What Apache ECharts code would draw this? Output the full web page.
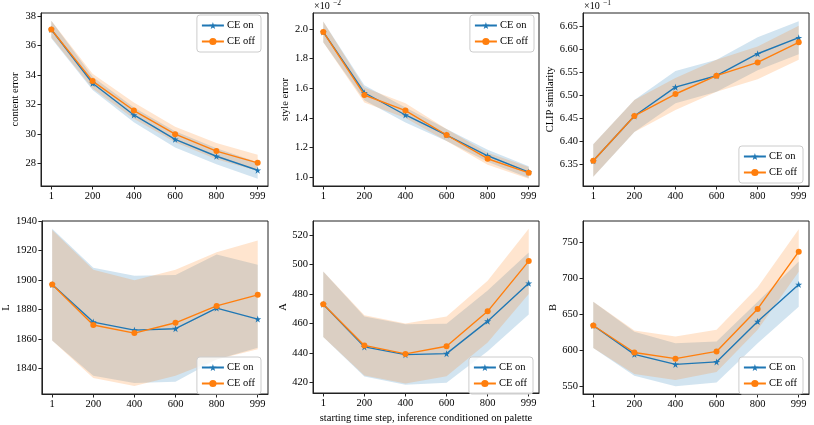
<!DOCTYPE html>
<html>
<head>
<meta charset="utf-8">
<script src="https://cdn.jsdelivr.net/npm/echarts@6/dist/echarts.min.js"></script>
<style>
html, body { margin: 0; padding: 0; background: #fff; }
#chart { width: 814px; height: 425px; }
</style>
</head>
<body>
<div id="chart"></div>
<script>
// time steps on the x axis
var steps = ['1', '200', '400', '600', '800', '999']

// content error
var contentOn = [37.1, 33.45, 31.3, 29.65, 28.5, 27.55]
var contentOnLo = [36.5, 33.0, 30.8, 29.1, 27.95, 26.98]
var contentOnHi = [37.7, 33.9, 31.8, 30.2, 29.05, 28.1]
var contentOff = [37.1, 33.6, 31.6, 30.0, 28.85, 28.05]
var contentOffLo = [36.55, 33.1, 31.05, 29.45, 28.3, 27.5]
var contentOffHi = [37.7, 34.1, 32.15, 30.5, 29.4, 28.6]
var contentTicks = [28, 30, 32, 34, 36, 38]

// style error (x 1e-2)
var styleOn = [1.98, 1.57, 1.42, 1.285, 1.145, 1.035]
var styleOnLo = [1.91, 1.52, 1.37, 1.245, 1.105, 0.995]
var styleOnHi = [2.05, 1.62, 1.47, 1.325, 1.185, 1.075]
var styleOff = [1.98, 1.555, 1.45, 1.285, 1.125, 1.03]
var styleOffLo = [1.91, 1.505, 1.40, 1.245, 1.085, 0.99]
var styleOffHi = [2.05, 1.605, 1.50, 1.325, 1.165, 1.07]
var styleTicks = [1.0, 1.2, 1.4, 1.6, 1.8, 2.0]

// CLIP similarity (x 1e-1)
var clipOn = [6.357, 6.455, 6.518, 6.543, 6.591, 6.626]
var clipOnLo = [6.322, 6.42, 6.483, 6.508, 6.555, 6.59]
var clipOnHi = [6.393, 6.49, 6.553, 6.578, 6.627, 6.662]
var clipOff = [6.357, 6.455, 6.503, 6.543, 6.572, 6.616]
var clipOffLo = [6.322, 6.42, 6.468, 6.508, 6.535, 6.578]
var clipOffHi = [6.393, 6.49, 6.538, 6.578, 6.607, 6.652]
var clipTicks = [6.35, 6.40, 6.45, 6.50, 6.55, 6.60, 6.65]

// L
var lOn = [1897, 1871.5, 1866, 1867, 1881, 1873.5]
var lOnLo = [1859, 1835, 1830, 1831, 1846, 1854]
var lOnHi = [1935, 1908.5, 1903, 1903.5, 1917.5, 1910.5]
var lOff = [1897, 1869.5, 1864, 1871, 1882.5, 1890]
var lOffLo = [1859, 1833.5, 1828, 1835, 1846, 1853]
var lOffHi = [1934, 1907, 1900, 1907, 1919, 1927]
var lTicks = [1840, 1860, 1880, 1900, 1920, 1940]

// A
var aOn = [473, 444, 438.7, 439.4, 461.5, 487.3]
var aOnLo = [450.7, 423.8, 418.3, 419.5, 441, 466]
var aOnHi = [495.3, 464.6, 459.4, 459.8, 482.4, 508.3]
var aOff = [473, 445, 439.2, 444.4, 468.2, 502.4]
var aOffLo = [450.7, 424.5, 419, 424, 447, 480]
var aOffHi = [495.3, 465.5, 460, 464.6, 489, 524.4]
var aTicks = [420, 440, 460, 480, 500, 520]

// B
var bOn = [634, 594, 580, 583.5, 639.5, 691]
var bOnLo = [602.6, 564.3, 549.5, 555, 609.5, 660]
var bOnHi = [667, 625.2, 609.5, 611.8, 667, 722.7]
var bOff = [634, 596.5, 588, 598, 657, 736.5]
var bOffLo = [602.6, 566.6, 558.3, 569.3, 628, 708.7]
var bOffHi = [667, 627.1, 618.8, 628, 687, 767.5]
var bTicks = [550, 600, 650, 700, 750]

var blue = '#1f77b4'
var orange = '#ff7f0e'
var font = 'Liberation Serif'
var star = 'path://M0,-1L0.2245,-0.309L0.951,-0.309L0.363,0.118L0.588,0.809L0,0.382L-0.588,0.809L-0.363,0.118L-0.951,-0.309L-0.2245,-0.309Z'

var panels = [
    {name: 'content error', on: contentOn, onLo: contentOnLo, onHi: contentOnHi, off: contentOff, offLo: contentOffLo, offHi: contentOffHi,
     ticks: contentTicks, min: 26.48, max: 38.22, digits: 0, gap: 20, grid: [41, 13, 227], legend: {right: 553, top: 15}},
    {name: 'style error', on: styleOn, onLo: styleOnLo, onHi: styleOnHi, off: styleOff, offLo: styleOffLo, offHi: styleOffHi,
     ticks: styleTicks, min: 0.941, max: 2.108, digits: 1, gap: 21, grid: [313, 13, 226], legend: {right: 280, top: 15}},
    {name: 'CLIP similarity', on: clipOn, onLo: clipOnLo, onHi: clipOnHi, off: clipOff, offLo: clipOffLo, offHi: clipOffHi,
     ticks: clipTicks, min: 6.302, max: 6.68, digits: 2, gap: 26, grid: [583, 13, 226], legend: {right: 11, top: 146}},
    {name: 'L', on: lOn, onLo: lOnLo, onHi: lOnHi, off: lOff, offLo: lOffLo, offHi: lOffHi,
     ticks: lTicks, min: 1822.6, max: 1940.2, digits: 0, gap: 26, grid: [41, 221, 227], legend: {right: 553, top: 357}},
    {name: 'A', on: aOn, onLo: aOnLo, onHi: aOnHi, off: aOff, offLo: aOffLo, offHi: aOffHi,
     ticks: aTicks, min: 412.6, max: 529.7, digits: 0, gap: 23, grid: [313, 221, 226], legend: {right: 281, top: 357}},
    {name: 'B', on: bOn, onLo: bOnLo, onHi: bOnHi, off: bOff, offLo: bOffLo, offHi: bOffHi,
     ticks: bTicks, min: 538.9, max: 779.1, digits: 0, gap: 23, grid: [583, 221, 226], legend: {right: 11, top: 357}}
]

var bandSeries = function(gi, lo, hi, color) {
    return {
        type: 'custom',
        xAxisIndex: gi,
        yAxisIndex: gi,
        silent: true,
        z: 1,
        data: lo.map(function(v, i) { return [i, v, hi[i]] }),
        encode: {x: 0, y: [1, 2]},
        renderItem: function(params, api) {
            if (params.dataIndex !== 0) return
            var top = []
            var bot = []
            for (var i = 0; i < lo.length; i++) {
                top.push(api.coord([i, hi[i]]))
                bot.unshift(api.coord([i, lo[i]]))
            }
            return {
                type: 'polygon',
                shape: {points: top.concat(bot)},
                style: {fill: color, opacity: 0.2}
            }
        }
    }
}

var lineSeries = function(gi, name, values, color, symbol, size) {
    return {
        type: 'line',
        name: name,
        xAxisIndex: gi,
        yAxisIndex: gi,
        z: 3,
        data: values.map(function(v, i) { return [i, v] }),
        symbol: symbol,
        symbolSize: size,
        showAllSymbol: true,
        lineStyle: {color: color, width: 1.4},
        itemStyle: {color: color, borderWidth: 0},
        emphasis: {disabled: true},
        animation: false
    }
}

var grids = []
var xAxes = []
var yAxes = []
var legends = []
var series = []
var axisColor = '#222'

panels.forEach(function(p, gi) {
    grids.push({
        left: p.grid[0], top: p.grid[1], width: p.grid[2], height: 173,
        show: true, borderColor: axisColor, borderWidth: 1, backgroundColor: 'transparent'
    })
    xAxes.push({
        type: 'value', gridIndex: gi, min: -0.25, max: 5.25,
        name: gi === 4 ? 'starting time step, inference conditioned on palette' : '',
        nameLocation: 'middle', nameGap: 20,
        nameTextStyle: {fontFamily: font, fontSize: 10.5, color: '#000'},
        axisLine: {show: true, onZero: false, lineStyle: {color: axisColor, width: 1}},
        axisTick: {show: true, length: 3.5, lineStyle: {color: axisColor}, customValues: [0, 1, 2, 3, 4, 5]},
        axisLabel: {
            fontFamily: font, fontSize: 10.5, color: '#000', margin: 5,
            customValues: [0, 1, 2, 3, 4, 5],
            formatter: function(v) { return steps[Math.round(v)] }
        },
        splitLine: {show: false}
    })
    yAxes.push({
        type: 'value', gridIndex: gi, min: p.min, max: p.max,
        name: p.name, nameLocation: 'middle', nameGap: p.gap,
        nameTextStyle: {fontFamily: font, fontSize: 10.5, color: '#000'},
        axisLine: {show: true, onZero: false, lineStyle: {color: axisColor, width: 1}},
        axisTick: {show: true, length: 3.5, lineStyle: {color: axisColor}, customValues: p.ticks},
        axisLabel: {
            fontFamily: font, fontSize: 10.5, color: '#000', margin: 5,
            customValues: p.ticks,
            formatter: function(v) { return v.toFixed(p.digits) }
        },
        splitLine: {show: false}
    })
    legends.push({
        data: ['CE on', 'CE off'],
        orient: 'vertical',
        right: p.legend.right,
        top: p.legend.top,
        itemWidth: 22,
        itemHeight: 9,
        itemGap: 5,
        padding: [5, 6, 5, 4],
        backgroundColor: 'rgba(255,255,255,0.8)',
        borderColor: '#ccc',
        borderWidth: 1,
        borderRadius: 3,
        selectedMode: false,
        textStyle: {fontFamily: font, fontSize: 10.5, color: '#000', padding: [0, 0, 0, -2]}
    })
    series.push(bandSeries(gi, p.onLo, p.onHi, blue))
    series.push(bandSeries(gi, p.offLo, p.offHi, orange))
    series.push(lineSeries(gi, 'CE on', p.on, blue, star, 7))
    series.push(lineSeries(gi, 'CE off', p.off, orange, 'circle', 6))
})

var option = {
    animation: false,
    backgroundColor: '#fff',
    textStyle: {fontFamily: font},
    grid: grids,
    xAxis: xAxes,
    yAxis: yAxes,
    legend: legends,
    series: series,
    graphic: [
        {type: 'text', left: 314, top: 1, style: {text: '×10', fontFamily: font, fontSize: 10, fill: '#000'}},
        {type: 'text', left: 333, top: -1, style: {text: '−2', fontFamily: font, fontSize: 7.5, fill: '#000'}},
        {type: 'text', left: 584, top: 1, style: {text: '×10', fontFamily: font, fontSize: 10, fill: '#000'}},
        {type: 'text', left: 603, top: -1, style: {text: '−1', fontFamily: font, fontSize: 7.5, fill: '#000'}}
    ]
}

echarts.init(document.getElementById('chart')).setOption(option)
</script>
</body>
</html>
